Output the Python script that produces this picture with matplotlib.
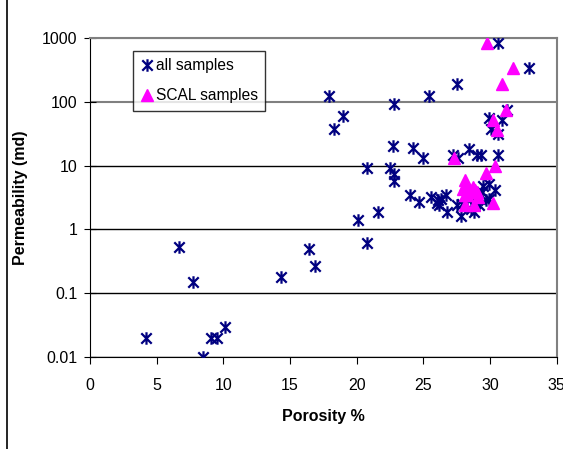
import matplotlib
matplotlib.use("Agg")
import matplotlib.pyplot as plt
from matplotlib.lines import Line2D
from matplotlib.path import Path

plt.rcParams['font.family'] = ['Liberation Sans', 'DejaVu Sans']

# all samples (porosity %, permeability md)
all_por = [4.2, 6.7, 7.7, 8.5, 9.1, 9.5, 10.1, 14.3, 16.4, 16.9,
           17.9, 18.3, 19.0, 20.1, 20.8, 20.8, 21.6, 22.5, 22.8, 22.7,
           22.8, 22.8, 24.0, 24.2, 24.7, 25.0, 25.4, 25.6, 26.0, 26.1,
           26.2, 26.3, 26.7, 26.8, 27.2, 27.5, 27.6, 27.5, 27.8, 27.9,
           28.4, 28.3, 28.6, 28.8, 28.9, 29.0, 29.3, 29.0, 29.2, 29.4,
           29.5, 29.7, 29.9, 29.9, 29.9, 30.1, 30.4, 30.6, 30.6, 30.6,
           30.9, 31.3, 32.9]
all_perm = [0.02, 0.53, 0.15, 0.01, 0.02, 0.02, 0.03, 0.18, 0.5, 0.27,
            122, 37, 60, 1.4, 0.62, 9, 1.85, 9, 93, 20,
            7.3, 5.7, 3.4, 19, 2.7, 13.3, 122, 3.2, 2.6, 2.9,
            2.4, 3.0, 3.4, 1.87, 14.5, 192, 13, 2.4, 1.6, 2.5,
            18.4, 3.0, 2.1, 1.9, 2.6, 14.5, 14.5, 3.6, 2.4, 3.8,
            4.8, 2.9, 5.2, 56, 3.0, 37, 4.1, 14.5, 31.6, 830,
            52, 75, 343]

# SCAL samples
scal_por = [27.3, 28.1, 28.1, 28.0, 28.1, 28.1, 28.3, 28.75, 28.9, 29.0,
            29.1, 28.8, 29.7, 30.2, 30.4, 30.2, 30.5, 31.2, 30.9, 31.7, 29.8]
scal_perm = [13.3, 5.9, 4.9, 4.3, 3.4, 2.4, 3.4, 4.6, 4.1, 3.8,
             3.2, 2.4, 7.7, 2.6, 10, 51, 36, 75, 192, 343, 830]

y_ticks = [0.01, 0.1, 1, 10, 100, 1000]
y_labels = ['0.01', '0.1', '1', '10', '100', '1000']
x_ticks = [0, 5, 10, 15, 20, 25, 30, 35]

# excel style star: an X with a vertical bar
star = Path([(-1, -1), (1, 1), (-1, 1), (1, -1), (0, -1.2), (0, 1.2)],
            [Path.MOVETO, Path.LINETO, Path.MOVETO, Path.LINETO,
             Path.MOVETO, Path.LINETO])

fig = plt.figure(figsize=(5.63, 4.49), dpi=100)
ax = fig.add_axes([0.16, 0.205, 0.829, 0.7105])

navy = '#000080'
ax.plot(all_por, all_perm, linestyle='none', marker=star, markersize=9,
        markeredgewidth=1.6, color=navy, label='all samples', zorder=3)
ax.plot(scal_por, scal_perm, linestyle='none', marker='^', markersize=9,
        color='#ff00ff', markeredgecolor='#ff00ff', label='SCAL samples', zorder=4)

ax.set_yscale('log')
ax.set_ylim(0.01, 1000)
ax.set_xlim(0, 35)
ax.set_yticks(y_ticks)
ax.set_yticklabels(y_labels)
ax.minorticks_off()
ax.set_xticks(x_ticks)

ax.yaxis.grid(True, color='black', linewidth=1)
for gl, v in zip(ax.get_ygridlines(), y_ticks):
    if v >= 100:
        gl.set_color('#808080')
        gl.set_linewidth(1.5)
ax.set_axisbelow(True)

for s in ['top', 'right']:
    ax.spines[s].set_color('#808080')
    ax.spines[s].set_linewidth(1.5)
ax.spines['left'].set_color('black')
ax.spines['bottom'].set_color('black')

ax.tick_params(axis='y', direction='inout', length=8, labelsize=11.5, pad=5)
ax.tick_params(axis='x', direction='out', length=5, labelsize=11.5, pad=10)

ax.set_xlabel('Porosity %', fontsize=11.5, fontweight='bold', labelpad=12)
ax.set_ylabel('Permeability (md)', fontsize=11.5, fontweight='bold', labelpad=10)

leg = ax.legend(loc='upper left', bbox_to_anchor=(0.092, 0.96), fontsize=11.2,
                frameon=True, fancybox=False, edgecolor='black',
                handletextpad=0.15, borderpad=0.5, handlelength=0.8,
                labelspacing=0.95, borderaxespad=0)
leg.get_frame().set_linewidth(1)

fig.add_artist(Line2D([7 / 563, 7 / 563], [0, 1], color='black', linewidth=1.2,
                      transform=fig.transFigure))

fig.savefig('out.png', dpi=100)
